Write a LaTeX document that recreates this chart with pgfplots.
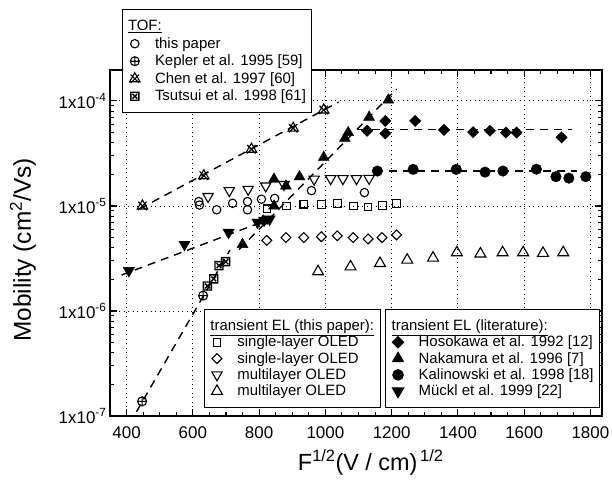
\documentclass[border=0pt]{standalone}
\usepackage{fontspec}
\setmainfont{Liberation Sans}
\usepackage{pgfplots}
\pgfplotsset{compat=1.18}
\usetikzlibrary{plotmarks}

\pgfdeclareplotmark{chen}{%
  \pgfpathmoveto{\pgfqpoint{0pt}{\pgfplotmarksize}}%
  \pgfpathlineto{\pgfqpoint{0.866\pgfplotmarksize}{-0.5\pgfplotmarksize}}%
  \pgfpathlineto{\pgfqpoint{-0.866\pgfplotmarksize}{-0.5\pgfplotmarksize}}%
  \pgfpathclose
  \pgfpathmoveto{\pgfqpoint{-0.7\pgfplotmarksize}{0.7\pgfplotmarksize}}%
  \pgfpathlineto{\pgfqpoint{0.7\pgfplotmarksize}{-0.7\pgfplotmarksize}}%
  \pgfpathmoveto{\pgfqpoint{0.7\pgfplotmarksize}{0.7\pgfplotmarksize}}%
  \pgfpathlineto{\pgfqpoint{-0.7\pgfplotmarksize}{-0.7\pgfplotmarksize}}%
  \pgfusepathqstroke
}
\pgfdeclareplotmark{boxx}{%
  \pgfpathrectangle{\pgfqpoint{-\pgfplotmarksize}{-\pgfplotmarksize}}{\pgfqpoint{2\pgfplotmarksize}{2\pgfplotmarksize}}%
  \pgfpathmoveto{\pgfqpoint{-0.6\pgfplotmarksize}{-0.6\pgfplotmarksize}}%
  \pgfpathlineto{\pgfqpoint{0.6\pgfplotmarksize}{0.6\pgfplotmarksize}}%
  \pgfpathmoveto{\pgfqpoint{-0.6\pgfplotmarksize}{0.6\pgfplotmarksize}}%
  \pgfpathlineto{\pgfqpoint{0.6\pgfplotmarksize}{-0.6\pgfplotmarksize}}%
  \pgfusepathqstroke
}

\pgfplotsset{
  every axis/.append style={
    at={(110bp,65bp)}, anchor=south west, scale only axis,
    width=492bp, height=346bp,
    xmin=350, xmax=1835, ymin=1e-7, ymax=1.97e-4,
    legend cell align=left,
    legend style={draw=black, line width=1bp, fill=white,
      font=\fontsize{15}{17}\selectfont, inner xsep=4bp, inner ysep=8bp,
      /tikz/every odd column/.append style={column sep=13bp}},
  },
}
\tikzset{
  fitl/.style={black, line width=1.4bp, dash pattern=on 8bp off 6bp},
}

\begin{document}
\begin{tikzpicture}
\path[use as bounding box] (0,0) rectangle (612bp,481bp);

% ---------------- Axis 1: frame, grid, TOF data -----------------
\begin{semilogyaxis}[
  xtick={400,600,...,1800}, minor x tick num=3,
  ytick={1e-7,1e-6,1e-5,1e-4},
  yticklabels={1x10\textsuperscript{-7},1x10\textsuperscript{-6},1x10\textsuperscript{-5},1x10\textsuperscript{-4}},
  minor ytick={2e-7,3e-7,4e-7,5e-7,6e-7,7e-7,8e-7,9e-7,
               2e-6,3e-6,4e-6,5e-6,6e-6,7e-6,8e-6,9e-6,
               2e-5,3e-5,4e-5,5e-5,6e-5,7e-5,8e-5,9e-5},
  grid=major,
  major grid style={black, line width=0.9bp, dash pattern=on 0.9bp off 3.6bp},
  axis line style={line width=1.3bp},
  every tick/.style={black, line width=1.1bp},
  major tick length=7bp, minor tick length=4bp,
  tick label style={font=\fontsize{17}{19}\selectfont},
  xticklabel style={yshift=-7bp},
  xlabel={F\textsuperscript{1/2}(V / cm)\textsuperscript{\,1/2}},
  ylabel={Mobility (cm\textsuperscript{2}/Vs)},
  xlabel style={font=\fontsize{23.5}{26}\selectfont, at={(axis description cs:0.53,-0.133)}, anchor=center},
  ylabel style={font=\fontsize{24.5}{27}\selectfont, at={(axis description cs:-0.177,0.48)}, anchor=center},
  xticklabel={\pgfmathprintnumber[1000 sep={},assume math mode=true]{\tick}},
  legend style={at={(0.024,1.175)}, anchor=north west, inner ysep=8.5bp, row sep=1.2bp},
]
\addlegendimage{empty legend}
\addlegendentry{\hspace*{-27bp}\underline{TOF:}}

\addplot[only marks, black, mark=o, mark size=4.2bp, mark options={solid, line width=1.1bp}] coordinates {
 (618,1.10e-5) (620,1.02e-5) (672,9.2e-6) (720,1.06e-5) (765,1.10e-5)
 (765,9.2e-6) (807,1.16e-5) (847,1.18e-5) (958,1.40e-5) (1118,1.34e-5)};
\addlegendentry{this paper}

\addplot[only marks, black, mark=oplus, mark size=4.5bp, mark options={solid, line width=1.1bp}] coordinates {
 (447,1.38e-7) (631,1.40e-6)};
\addlegendentry{Kepler et al. 1995 [59]}

\addplot[only marks, black, mark=chen, mark size=6bp, mark options={solid, line width=1.1bp}] coordinates {
 (448,1.0e-5) (633,1.94e-5) (777,3.47e-5) (903,5.5e-5) (995,8.2e-5)};
\addlegendentry{Chen et al. 1997 [60]}

\addplot[only marks, black, mark=boxx, mark size=4bp, mark options={solid, line width=1.4bp}] coordinates {
 (644,1.73e-6) (663,2.02e-6) (679,2.70e-6) (699,2.95e-6)};
\addlegendentry{Tsutsui et al. 1998 [61]}

\addplot[fitl, forget plot] coordinates {(440,9.4e-6) (1040,9.75e-5)};
\addplot[fitl, forget plot] coordinates {(430,1.1e-7) (712,3.8e-6)};
\end{semilogyaxis}

% ---------------- Axis 2: transient EL (this paper) -----------------
\begin{semilogyaxis}[hide axis,
  legend style={at={(0.191,0.3084)}, anchor=north west},
]
\addlegendimage{empty legend}
\addlegendentry{\hspace*{-27bp}\underline{transient EL (this paper):}}

\addplot[only marks, black, mark=square, mark size=3.8bp, mark options={solid, line width=1.1bp}] coordinates {
 (824,9.4e-6) (882,1.0e-5) (935,1.04e-5) (988,1.03e-5) (1037,1.05e-5)
 (1085,1.0e-5) (1129,9.8e-6) (1172,1.01e-5) (1215,1.06e-5)};
\addlegendentry{single-layer OLED}

\addplot[only marks, black, mark=square, mark size=3.5bp, mark options={solid, line width=1.1bp, rotate=45}] coordinates {
 (823,4.7e-6) (881,5.0e-6) (935,5.0e-6) (988,5.1e-6) (1036,5.2e-6)
 (1084,5.0e-6) (1129,4.85e-6) (1171,5.0e-6) (1215,5.3e-6)};
\addlegendentry{single-layer OLED}

\addplot[only marks, black, mark=triangle, mark size=6bp, mark options={solid, line width=1.1bp, rotate=180}] coordinates {
 (646,1.23e-5) (710,1.40e-5) (767,1.44e-5) (820,1.55e-5) (875,1.6e-5)
 (966,1.8e-5) (1016,1.82e-5) (1053,1.82e-5) (1094,1.82e-5) (1132,1.83e-5)};
\addlegendentry{multilayer OLED}

\addplot[only marks, black, mark=triangle, mark size=6.3bp, mark options={solid, line width=1.1bp}] coordinates {
 (978,2.37e-6) (1076,2.64e-6) (1165,2.84e-6) (1247,3.06e-6) (1325,3.2e-6)
 (1397,3.6e-6) (1468,3.5e-6) (1535,3.6e-6) (1597,3.6e-6) (1657,3.55e-6) (1718,3.6e-6)};
\addlegendentry{multilayer OLED}
\end{semilogyaxis}

% ---------------- Axis 3: transient EL (literature) -----------------
\begin{semilogyaxis}[hide axis,
  legend style={at={(0.559,0.3084)}, anchor=north west},
]
\addlegendimage{empty legend}
\addlegendentry{\hspace*{-27bp}\underline{transient EL (literature):}}

\addplot[only marks, black, mark=square*, mark size=4bp, mark options={solid, rotate=45}] coordinates {
 (1126,5.2e-5) (1181,6.45e-5) (1181,4.9e-5) (1271,6.45e-5) (1358,5.3e-5)
 (1446,5.05e-5) (1497,5.2e-5) (1545,5.0e-5) (1577,5.0e-5) (1713,4.5e-5)};
\addlegendentry{Hosokawa et al. 1992 [12]}

\addplot[only marks, black, mark=triangle*, mark size=6.3bp, mark options={solid}] coordinates {
 (750,4.3e-6) (812,7.2e-6) (845,1.0e-5) (845,1.8e-5) (881,1.55e-5)
 (922,1.9e-5) (995,2.9e-5) (1059,4.4e-5) (1069,5.0e-5) (1132,7.0e-5) (1190,1.02e-4)};
\addlegendentry{Nakamura et al. 1996 [7]}

\addplot[only marks, black, mark=*, mark size=5.3bp, mark options={solid}] coordinates {
 (1157,2.15e-5) (1265,2.23e-5) (1395,2.23e-5) (1482,2.1e-5) (1536,2.15e-5)
 (1637,2.24e-5) (1696,1.9e-5) (1735,1.84e-5) (1786,1.9e-5)};
\addlegendentry{Kalinowski et al. 1998 [18]}

\addplot[only marks, black, mark=triangle*, mark size=6.5bp, mark options={solid, rotate=180}] coordinates {
 (407,2.42e-6) (575,4.3e-6) (708,5.6e-6) (795,7.0e-6) (815,7.3e-6) (832,7.5e-6)};
\addlegendentry{Mückl et al. 1999 [22]}

\addplot[fitl, forget plot] coordinates {(740,3.85e-6) (1215,1.3e-4)};
\addplot[fitl, forget plot] coordinates {(385,2.2e-6) (835,7.55e-6)};
\addplot[fitl, forget plot] coordinates {(1100,5.37e-5) (1745,5.37e-5)};
\addplot[fitl, forget plot] coordinates {(1150,2.15e-5) (1760,2.15e-5)};
\end{semilogyaxis}
\end{tikzpicture}
\end{document}
